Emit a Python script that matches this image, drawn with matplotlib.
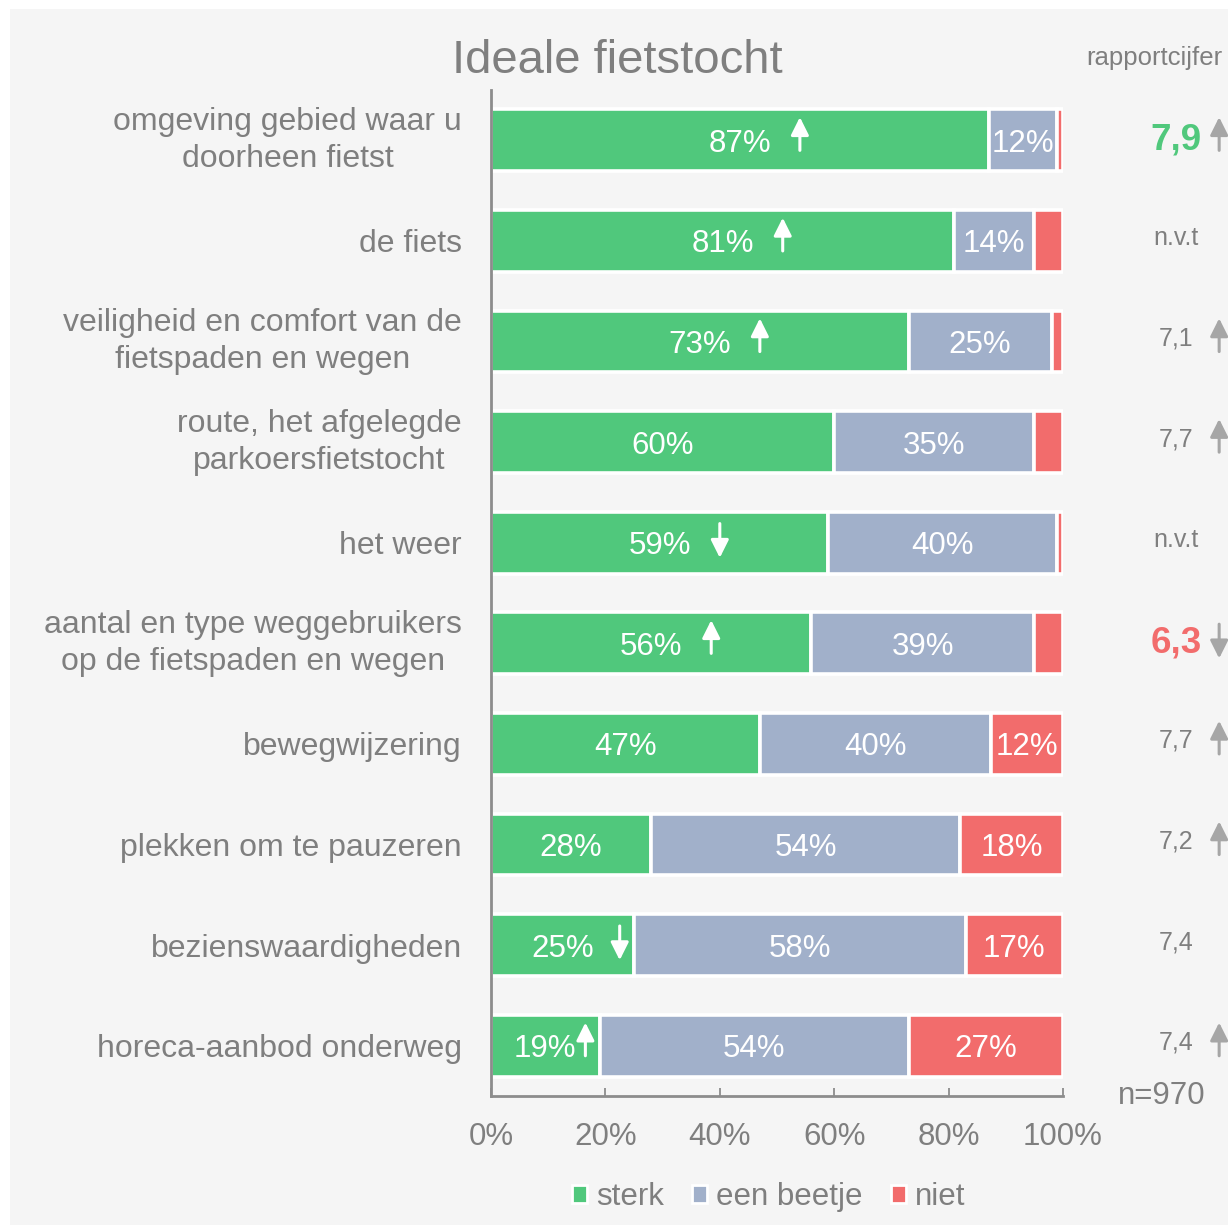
#!/usr/bin/env python3
"""Ideale fietstocht – gestapelde horizontale balken met rapportcijfers."""
import matplotlib
matplotlib.use("Agg")
import matplotlib.pyplot as plt
from matplotlib.patches import Patch, Rectangle

plt.rcParams["font.family"] = ["Liberation Sans", "DejaVu Sans"]

GREEN = "#50c87c"
BLUE = "#a1b0ca"
RED = "#f26c6c"
GREY_TXT = "#7f7f7f"
GREY_ARROW = "#a6a6a6"
SPINE = "#8c8c8c"
BG = "#f5f5f5"

categories = [
    "omgeving gebied waar u\ndoorheen fietst",
    "de fiets",
    "veiligheid en comfort van de\nfietspaden en wegen",
    "route, het afgelegde\nparkoersfietstocht",
    "het weer",
    "aantal en type weggebruikers\nop de fietspaden en wegen",
    "bewegwijzering",
    "plekken om te pauzeren",
    "bezienswaardigheden",
    "horeca-aanbod onderweg",
]
sterk = [87, 81, 73, 60, 59, 56, 47, 28, 25, 19]
beetje = [12, 14, 25, 35, 40, 39, 40.4, 54, 58, 54]
niet = [1, 5, 2, 5, 1, 5, 12.6, 18, 17, 27]
trend_sterk = ["up", "up", "up", "", "down", "up", "", "", "down", "up"]
rapportcijfer = ["7,9", "n.v.t", "7,1", "7,7", "n.v.t", "6,3", "7,7", "7,2", "7,4", "7,4"]
trend_cijfer = ["up", "", "up", "up", "", "down", "up", "up", "", "up"]
cijfer_kleur = {0: GREEN, 5: RED}   # opvallende cijfers (vet)
series_names = ["sterk", "een beetje", "niet"]
xticks = [0, 20, 40, 60, 80, 100]
n_text = "n=970"


def draw_arrow(ax, x, y, direction, color):
    # pijl rond rijmidden y, punt boven (up) of onder (down)
    if direction == "up":
        tip, tail = y - 0.23, y + 0.10
    else:
        tip, tail = y + 0.15, y - 0.19
    ax.annotate("", xy=(x, tip), xytext=(x, tail), annotation_clip=False,
                arrowprops=dict(arrowstyle="-|>", color=color, lw=2.2,
                                shrinkA=0, shrinkB=0, mutation_scale=27))


fig = plt.figure(figsize=(12.28, 12.25), dpi=100, facecolor="white")
fig.patches.append(Rectangle((10 / 1228, 0), 1, 1 - 9 / 1225, transform=fig.transFigure,
                             facecolor=BG, edgecolor="none", zorder=-10))
ax = fig.add_axes([491 / 1228, 129 / 1225, 572 / 1228, 1006 / 1225])
ax.patch.set_alpha(0)

ys = list(range(len(categories)))
left = [0] * len(ys)
for vals, col in zip([sterk, beetje, niet], [GREEN, BLUE, RED]):
    ax.barh(ys, vals, left=left, height=0.615, color=col, edgecolor="white",
            linewidth=2.6, zorder=1)
    for y, v, l in zip(ys, vals, left):
        if v >= 10:
            ax.text(l + v / 2, y + 0.035, f"{int(v)}%", ha="center", va="center",
                    color="white", fontsize=22.5, zorder=3)
    left = [a + b for a, b in zip(left, vals)]

# trendpijlen in de groene balk
for y, v, t in zip(ys, sterk, trend_sterk):
    if t:
        x = min(v / 2 + 10.5, v - 2.5)
        draw_arrow(ax, x, y, t, "white")

# rapportcijfers rechts
for y, c, t in zip(ys, rapportcijfer, trend_cijfer):
    if y in cijfer_kleur:
        ax.text(119.8, y, c, ha="center", va="center", fontsize=26.5,
                fontweight="bold", color=cijfer_kleur[y], clip_on=False)
    else:
        ax.text(119.8, y - 0.03, c, ha="center", va="center", fontsize=18,
                color=GREY_TXT, clip_on=False)
    if t:
        draw_arrow(ax, 127.3, y, t, GREY_ARROW)

ax.set_xlim(0, 100)
ax.set_ylim(len(categories) - 0.5, -0.5)
ax.set_yticks(ys)
ax.set_yticklabels(categories, fontsize=23, color=GREY_TXT)
for lbl in ax.get_yticklabels():
    lbl.set_multialignment("center")
    if "\n" in lbl.get_text():
        lbl.set_linespacing(1.3)
        lbl.set_verticalalignment("center")
ax.set_xticks(xticks)
ax.set_xticklabels([f"{v}%" for v in xticks], fontsize=22.5, color=GREY_TXT)
ax.tick_params(axis="y", length=0, pad=21)
ax.tick_params(axis="x", direction="in", length=6, width=1.3, color=SPINE, pad=19)
for side in ("top", "right"):
    ax.spines[side].set_visible(False)
for side in ("left", "bottom"):
    ax.spines[side].set_color(SPINE)
    ax.spines[side].set_linewidth(2)
    ax.spines[side].set_zorder(4)

ax.text(109.6, 9.5, n_text, ha="left", va="center", fontsize=22.5, color=GREY_TXT,
        clip_on=False)

fig.text(0.5028, 1 - 61 / 1225, "Ideale fietstocht", ha="center", va="center",
         fontsize=34, color=GREY_TXT)
fig.text(0.9397, 1 - 58 / 1225, "rapportcijfer", ha="center", va="center",
         fontsize=18.5, color=GREY_TXT)

handles = [Patch(facecolor=c, edgecolor="white", linewidth=2) for c in (GREEN, BLUE, RED)]
fig.legend(handles, series_names, loc="center", bbox_to_anchor=(0.626, 1 - 1197 / 1225),
           ncol=3, frameon=False, fontsize=22.5, labelcolor=GREY_TXT,
           handlelength=0.48, handleheight=0.48, handletextpad=0.3, columnspacing=0.9)

fig.savefig("out.png", dpi=100, facecolor=fig.get_facecolor())
